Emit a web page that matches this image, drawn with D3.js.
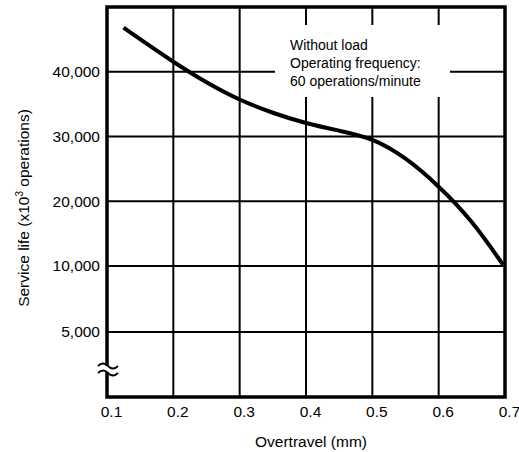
<!DOCTYPE html>
<html>
<head>
<meta charset="utf-8">
<script src="https://cdn.jsdelivr.net/npm/d3@7"></script>
<style>
  body { margin: 0; background: #fff; }
  svg text { font-family: "Liberation Sans", Arial, sans-serif; fill: #000; }
</style>
</head>
<body>
<div id="chart"></div>
<script>
// curve
const overtravel = [0.125, 0.15, 0.2, 0.25, 0.3, 0.35, 0.4, 0.45, 0.5, 0.55, 0.6, 0.65, 0.697]
const serviceLife = [46800, 45000, 41500, 38300, 35600, 33600, 32000, 30900, 29800, 26800, 22400, 17100, 10200]

const xTicks = [0.1, 0.2, 0.3, 0.4, 0.5, 0.6, 0.7]
const yTicks = [5000, 10000, 20000, 30000, 40000]
const notes = ["Without load", "Operating frequency:", "60 operations/minute"]

;(function () {
    let w = 519, h = 452
    let left = 107, right = 505, top = 7, bottom = 397

    let svg = d3.select("#chart").append("svg")
        .attr("width", w)
        .attr("height", h)

    let x = d3.scaleLinear().domain([0.1, 0.7]).range([left, right])
    // broken axis: bottom part is 5,000 per division, upper part 10,000
    let y = d3.scaleLinear().domain([0, 5000, 10000, 50000]).range([bottom, 332, 266, top])

    let data = overtravel.map((d, i) => ({ x: d, y: serviceLife[i] }))

    // grid
    let grid = svg.append("g")
    grid.selectAll(".vx")
        .data(xTicks.slice(1, -1))
        .enter().append("line")
        .attr("x1", d => x(d)).attr("x2", d => x(d))
        .attr("y1", top).attr("y2", bottom)
        .attr("stroke", "#000").attr("stroke-width", 2)
    grid.selectAll(".hy")
        .data(yTicks)
        .enter().append("line")
        .attr("x1", left).attr("x2", right)
        .attr("y1", d => y(d)).attr("y2", d => y(d))
        .attr("stroke", "#000").attr("stroke-width", 2)

    // white area behind the note
    svg.append("rect")
        .attr("x", 275).attr("y", 25)
        .attr("width", 175).attr("height", 72)
        .attr("fill", "#fff")

    svg.append("g")
        .selectAll("text")
        .data(notes)
        .enter().append("text")
        .attr("x", 290)
        .attr("y", (d, i) => 50 + i * 18)
        .style("font-size", "14px")
        .text(d => d)

    // curve
    let line = d3.line()
        .x(d => x(d.x))
        .y(d => y(d.y))
        .curve(d3.curveBasis)

    svg.append("path")
        .datum(data)
        .attr("fill", "none")
        .attr("stroke", "#000")
        .attr("stroke-width", 4)
        .attr("d", line)

    // frame
    svg.append("rect")
        .attr("x", left).attr("y", top)
        .attr("width", right - left).attr("height", bottom - top)
        .attr("fill", "none")
        .attr("stroke", "#000")
        .attr("stroke-width", 3.5)

    // axes (labels only)
    let xAxis = d3.axisBottom(x).tickValues(xTicks).tickSize(0).tickPadding(9)
        .tickFormat(d3.format(".1f"))
    let gx = svg.append("g")
        .attr("transform", "translate(4," + bottom + ")")
        .call(xAxis)
    gx.select(".domain").remove()
    gx.selectAll("text").style("font-size", "15.5px").style("font-family", "Liberation Sans, Arial, sans-serif")

    let yAxis = d3.axisLeft(y).tickValues(yTicks).tickSize(0).tickPadding(7)
        .tickFormat(d3.format(","))
    let gy = svg.append("g")
        .attr("transform", "translate(" + left + ",0)")
        .call(yAxis)
    gy.select(".domain").remove()
    gy.selectAll("text").style("font-size", "15.5px").style("font-family", "Liberation Sans, Arial, sans-serif")

    // axis break mark
    svg.append("rect")
        .attr("x", left - 4).attr("y", 366)
        .attr("width", 8).attr("height", 6)
        .attr("fill", "#fff")
    let squiggle = yy => "M" + (left - 9) + "," + (yy + 1) +
        " q5,-5 10,0 t10,0"
    svg.append("g").selectAll("path")
        .data([365, 372])
        .enter().append("path")
        .attr("d", d => squiggle(d))
        .attr("fill", "none")
        .attr("stroke", "#000")
        .attr("stroke-width", 1.8)

    // axis titles
    svg.append("text")
        .attr("x", 311)
        .attr("y", 447)
        .style("text-anchor", "middle")
        .style("font-size", "15.5px")
        .text("Overtravel (mm)")

    let yl = svg.append("text")
        .attr("transform", "rotate(-90)")
        .attr("x", -208)
        .attr("y", 29)
        .style("text-anchor", "middle")
        .style("font-size", "15.5px")
    yl.append("tspan").text("Service life (x10")
    yl.append("tspan").attr("dy", -6).style("font-size", "10px").text("3")
    yl.append("tspan").attr("dy", 6).text(" operations)")
})()
</script>
</body>
</html>
